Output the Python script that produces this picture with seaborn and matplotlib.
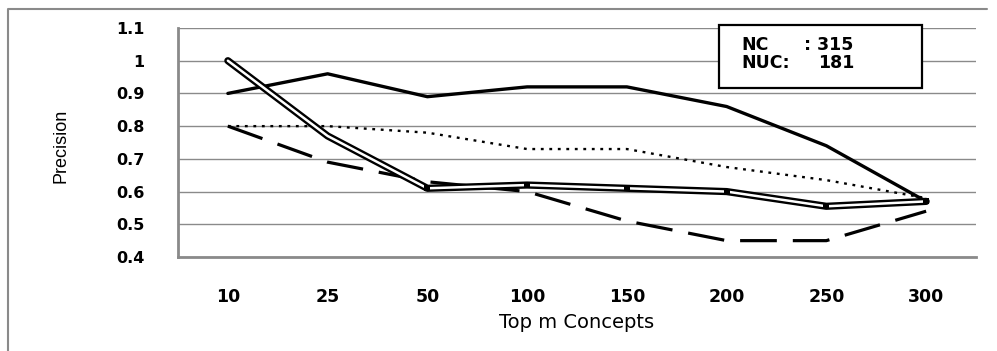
import matplotlib
matplotlib.use("Agg")
import matplotlib.pyplot as plt
from matplotlib.lines import Line2D
from matplotlib.patches import Rectangle
import seaborn as sns
import pandas as pd
import numpy as np

categories = ["10", "25", "50", "100", "150", "200", "250", "300"]
solid_vals = [0.90, 0.96, 0.89, 0.92, 0.92, 0.86, 0.74, 0.57]
dotted_vals = [0.80, 0.80, 0.78, 0.73, 0.73, 0.675, 0.635, 0.58]
dashed_vals = [0.80, 0.69, 0.63, 0.60, 0.51, 0.45, 0.45, 0.54]
double_vals = [1.00, 0.77, 0.61, 0.62, 0.61, 0.60, 0.555, 0.57]
y_ticks = [0.4, 0.5, 0.6, 0.7, 0.8, 0.9, 1.0, 1.1]
y_tick_labels = ["0.4", "0.5", "0.6", "0.7", "0.8", "0.9", "1", "1.1"]
box_lines = [("NC", ": 315"), ("NUC:", "181")]

sns.set_style("white")
plt.rcParams["font.family"] = ["DejaVu Sans"]
plt.rcParams["text.color"] = "black"

W, H = 997, 351
fig = plt.figure(figsize=(W / 100, H / 100), dpi=100)
ax = fig.add_axes([178 / W, 1 - 257 / H, (976 - 178) / W, (257 - 28) / H])

df = pd.DataFrame({
    "pos": np.arange(len(categories)),
    "solid": solid_vals,
    "dotted": dotted_vals,
    "dashed": dashed_vals,
    "double": double_vals,
})

grid_c = "#8a8a8a"
for y in y_ticks:
    ax.axhline(y, color=grid_c, lw=1.0, zorder=0)

sns.lineplot(data=df, x="pos", y="solid", ax=ax, color="black", lw=2.4,
             solid_joinstyle="round", zorder=3)
l = sns.lineplot(data=df, x="pos", y="dotted", ax=ax, color="black", lw=1.7, zorder=3)
l.lines[-1].set_dashes((1.2, 2.4))
l = sns.lineplot(data=df, x="pos", y="dashed", ax=ax, color="black", lw=2.3, zorder=3)
l.lines[-1].set_dashes((11.5, 5))
sns.lineplot(data=df, x="pos", y="double", ax=ax, color="black", lw=5.2,
             solid_capstyle="round", solid_joinstyle="round", zorder=4)
sns.lineplot(data=df, x="pos", y="double", ax=ax, color="white", lw=1.8,
             solid_capstyle="round", solid_joinstyle="round", zorder=5)
sns.lineplot(data=df.iloc[2:], x="pos", y="double", ax=ax, lw=0, zorder=6,
             marker="s", markersize=4.5, markerfacecolor="black",
             markeredgecolor="black", markeredgewidth=0)

ax.set_xlim(-0.5, len(categories) - 0.5)
ax.set_ylim(0.4, 1.1)
ax.set_xticks(np.arange(len(categories)))
ax.set_xticklabels(categories, fontsize=12.5, fontweight="bold", color="black")
ax.set_xticks(np.arange(-0.5, len(categories)), minor=True)
ax.tick_params(axis="x", which="major", length=0, pad=22)
ax.tick_params(axis="x", which="minor", length=5, width=1.2, color=grid_c, direction="out")
ax.set_yticks(y_ticks)
ax.set_yticklabels(y_tick_labels, fontsize=11.5, fontweight="bold", color="black")
ax.tick_params(axis="y", which="major", length=8, width=1.0, color=grid_c, pad=16)

for s in ["top", "right"]:
    ax.spines[s].set_visible(False)
for s in ["left", "bottom"]:
    ax.spines[s].set_color(grid_c)
    ax.spines[s].set_linewidth(2.0)
    ax.spines[s].set_zorder(6)

ax.set_xlabel("")
ax.set_ylabel("")

def fx(x):
    return x / W

def fy(y):
    return 1 - y / H

fig.text(fx(577), fy(323), "Top m Concepts", fontsize=14, ha="center", va="center", color="black")
fig.text(fx(61), fy(146), "Precision", fontsize=13, rotation=90, ha="center", va="center",
         color="black", family=["Liberation Sans Narrow", "Liberation Sans", "DejaVu Sans"])

# annotation box
fig.patches.append(Rectangle((fx(719), fy(88)), fx(922) - fx(719), fy(25) - fy(88),
                             transform=fig.transFigure, fill=True, facecolor="white",
                             edgecolor="black", lw=1.6, zorder=10))
fig.text(fx(741), fy(45.5), box_lines[0][0], fontsize=12.5, fontweight="bold", va="center", zorder=11)
fig.text(fx(804), fy(45.5), box_lines[0][1], fontsize=12.5, fontweight="bold", va="center", zorder=11)
fig.text(fx(741), fy(62.5), box_lines[1][0], fontsize=12.5, fontweight="bold", va="center", zorder=11)
fig.text(fx(818), fy(62.5), box_lines[1][1], fontsize=12.5, fontweight="bold", va="center", zorder=11)

# outer frame (top and left edges)
fig.lines.append(Line2D([fx(8), fx(8), fx(987)], [0, fy(9), fy(9)], transform=fig.transFigure,
                        color=grid_c, lw=1.5))

fig.savefig("out.png", dpi=100)
